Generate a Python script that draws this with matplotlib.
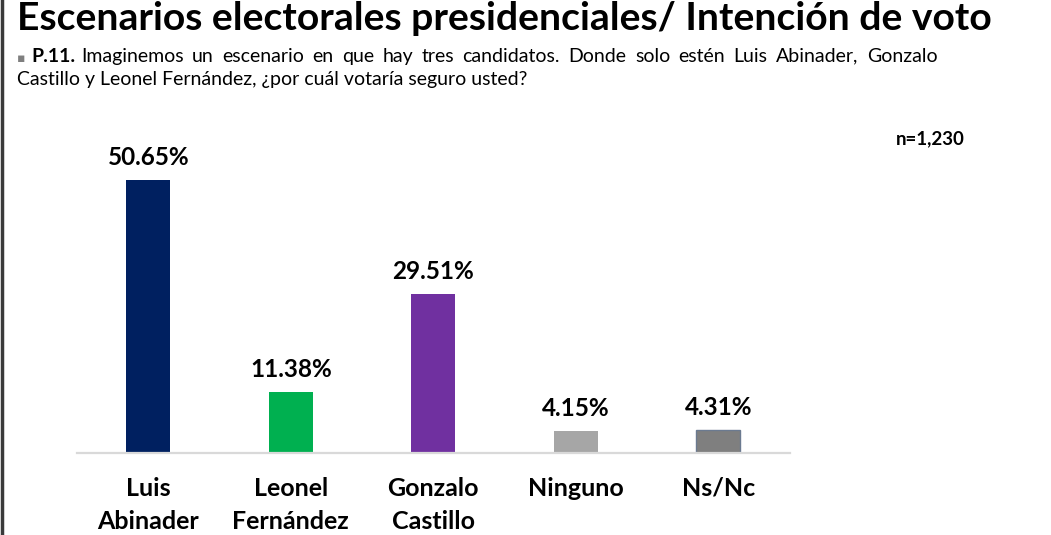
#! /usr/bin/env python3
# coding: utf-8

import matplotlib
matplotlib.use("Agg")
import matplotlib.pyplot as plt
from matplotlib.lines import Line2D

TITLE = "Escenarios electorales presidenciales/ Intención de voto"
QUESTION_LINE_1 = "Imaginemos un escenario en que hay tres candidatos. Donde solo estén Luis Abinader, Gonzalo"
QUESTION_LINE_2 = "Castillo y Leonel Fernández, ¿por cuál votaría seguro usted?"
SAMPLE = "n=1,230"

categories = ["Luis\nAbinader", "Leonel\nFernández", "Gonzalo\nCastillo", "Ninguno", "Ns/Nc"]
values = [50.65, 11.38, 29.51, 4.15, 4.31]
colors = ["#002060", "#00b050", "#7030a0", "#a6a6a6", "#7f7f7f"]

FONT = ["Lato", "DejaVu Sans"]


def justified_words(fig, text, x0, x1, y, **kw):
    # spread words across the full width like a justified paragraph line
    words = text.split()
    renderer = fig.canvas.get_renderer()
    fig_w = fig.bbox.width
    widths = []
    for w in words:
        t = fig.text(0, 0, w, **kw)
        widths.append(t.get_window_extent(renderer).width / fig_w)
        t.remove()
    gap = (x1 - x0 - sum(widths)) / (len(words) - 1)
    x = x0
    for w, wd in zip(words, widths):
        fig.text(x, y, w, va="baseline", ha="left", **kw)
        x += wd + gap


def main():
    plt.rcParams["font.family"] = FONT
    fig = plt.figure(figsize=(10.51, 5.35), dpi=100)
    fig.patch.set_facecolor("white")

    # dark frame edge on the left side
    fig.add_artist(Line2D([0.0015, 0.0015], [0, 1], transform=fig.transFigure,
                          color="#3a3a3a", linewidth=2.5))

    fig.text(0.016, 0.944, TITLE, fontsize=28.2, fontweight="bold",
             color="black", va="baseline", ha="left")

    fig.text(0.016, 0.885, "▪", fontsize=9, color="#7f7f7f",
             family=["DejaVu Sans"], va="baseline", ha="left")
    fig.text(0.030, 0.885, "P.11.", fontsize=14, fontweight="bold",
             va="baseline", ha="left")
    justified_words(fig, QUESTION_LINE_1, 0.077, 0.892, 0.885, fontsize=14)
    fig.text(0.016, 0.842, QUESTION_LINE_2, fontsize=14,
             va="baseline", ha="left")

    fig.text(0.852, 0.730, SAMPLE, fontsize=13.5, fontweight="bold",
             va="baseline", ha="left")

    ax = fig.add_axes([0.0733, 0.1533, 0.678, 0.604])
    x = list(range(len(categories)))
    bars = ax.bar(x, values, width=0.31, color=colors, zorder=2)
    bars[-1].set_edgecolor("#6b7a90")
    bars[-1].set_linewidth(1.0)

    for xi, v in zip(x, values):
        ax.annotate("{:.2f}%".format(v), (xi, v), xytext=(0, 8),
                    textcoords="offset points", ha="center", va="bottom",
                    fontsize=17.5, fontweight="bold")

    ax.set_xlim(-0.5, 4.5)
    ax.set_ylim(0, 60)
    ax.set_xticks(x)
    ax.set_xticklabels(categories, fontsize=18, fontweight="bold",
                       linespacing=1.55)
    ax.tick_params(axis="x", length=0, pad=17)
    ax.set_yticks([])
    for side in ["top", "right", "left"]:
        ax.spines[side].set_visible(False)
    ax.spines["bottom"].set_color("#d9d9d9")
    ax.spines["bottom"].set_linewidth(1.6)

    fig.savefig("out.png", dpi=100)


if __name__ == "__main__":
    main()
